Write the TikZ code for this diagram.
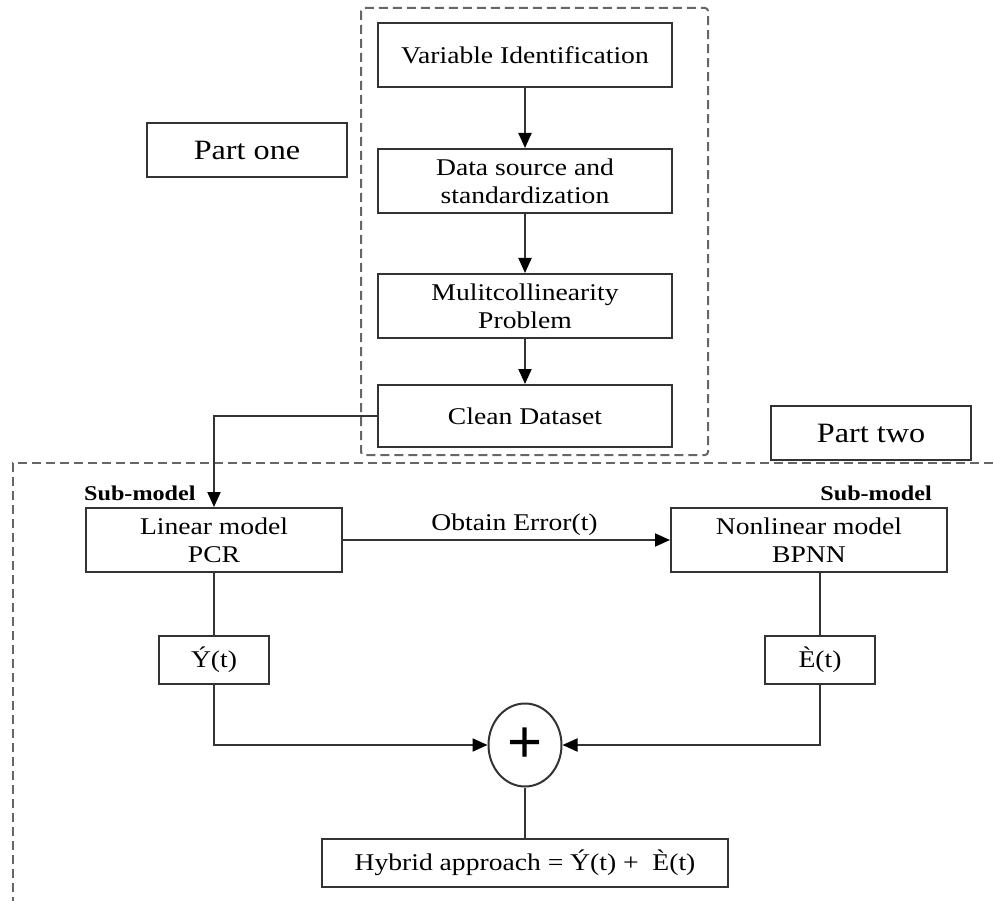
\documentclass[tikz,border=0pt]{standalone}
\usepackage{fontspec}
\setmainfont[FakeStretch=1.15]{Liberation Serif}
\newfontfamily\plusfont{Liberation Sans}
\usetikzlibrary{arrows.meta,shapes.geometric}
\definecolor{lc}{HTML}{333333}
\definecolor{dc}{HTML}{666666}
\newcommand\myfs{\fontsize{24}{28}\selectfont}
\newcommand\mypfs{\fontsize{28}{32}\selectfont}
\newcommand\mysfs{\fontsize{21}{24}\selectfont\bfseries}
\tikzset{
  box/.style={draw=lc, line width=2pt, minimum width=294pt, minimum height=63pt, inner sep=2pt, align=center, font=\myfs, text=black},
  arr/.style={draw=lc, line width=2pt, -{Triangle[length=15pt,width=13pt,color=black,fill=black]}},
  ln/.style={draw=lc, line width=2pt},
  dsh/.style={draw=dc, line width=2pt, dash pattern=on 9pt off 5pt},
  sublbl/.style={font=\mysfs, inner sep=0pt, text=black}
}
\begin{document}
\begin{tikzpicture}[x=1pt,y=-1pt]
\useasboundingbox (0,0) rectangle (993,901);
% dashed frames
\draw[dsh, rounded corners=3pt] (361,8) rectangle (708,455);
\draw[dsh] (993,463) -- (13,463) -- (13,901);
% part one
\node[box, minimum height=64pt] (vi) at (525,55) {Variable Identification};
\node[box, minimum height=64pt] (ds) at (525,181) {Data source and\\standardization};
\node[box, minimum height=64pt] (mc) at (525,306) {Mulitcollinearity\\Problem};
\node[box, minimum height=62pt] (cd) at (525,416) {Clean Dataset};
\node[box, minimum width=200pt, minimum height=54pt, font=\mypfs] (p1) at (247,150) {Part one};
\node[box, minimum width=200pt, minimum height=54pt, font=\mypfs, fill=white] (p2) at (871,433) {Part two};
% part two
\node[box, minimum width=256pt, minimum height=64pt] (lm) at (214,540) {Linear model\\PCR};
\node[box, minimum width=276pt, minimum height=64pt] (nl) at (809,540) {Nonlinear model\\BPNN};
\node[sublbl, anchor=base west] (s1) at (84,500) {Sub-model};
\node[sublbl, anchor=base east] (s2) at (932,500) {Sub-model};
\node[box, minimum width=110pt, minimum height=48pt] (y) at (214,660) {Ý(t)};
\node[box, minimum width=110pt, minimum height=48pt] (e) at (820,660) {È(t)};
\node[draw=lc, line width=2pt, ellipse, minimum width=73pt, minimum height=83pt, inner sep=0pt, font=\plusfont\fontsize{60}{60}\selectfont] (sum) at (525,745) {+};
\node[box, minimum width=406pt, minimum height=48pt] (hy) at (525,863) {Hybrid approach = Ý(t) + \ È(t)};
% connectors
\draw[arr] (vi.south) -- (ds.north);
\draw[arr] (ds.south) -- (mc.north);
\draw[arr] (mc.south) -- (cd.north);
\draw[arr] (cd.west) -| (lm.north);
\draw[arr] (lm.east) -- node[above, font=\myfs, text=black, xshift=8pt] {Obtain Error(t)} (nl.west);
\draw[ln] (lm.south) -- (y.north);
\draw[ln] (nl.south -| e.north) -- (e.north);
\draw[arr] (y.south) |- (sum.west);
\draw[arr] (e.south) |- (sum.east);
\draw[ln] (sum.south) -- (hy.north);
\end{tikzpicture}
\end{document}
